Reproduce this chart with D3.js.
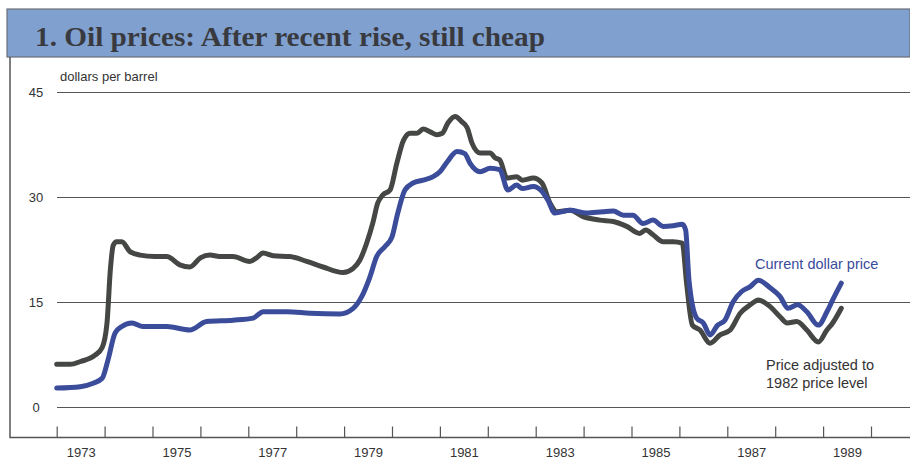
<!DOCTYPE html>
<html>
<head>
<meta charset="utf-8">
<script src="https://cdn.jsdelivr.net/npm/d3@7"></script>
<style>
  html, body { margin: 0; padding: 0; background: #fff; }
  svg { display: block; }
</style>
</head>
<body>
<svg id="chart" width="910" height="461"></svg>
<script>
// ---- Data ----
const title = "1. Oil prices: After recent rise, still cheap";
const yUnitLabel = "dollars per barrel";
const yTicks = [0, 15, 30, 45];
const yearTicks = d3.range(1973, 1991);
const yearLabels = [1973, 1975, 1977, 1979, 1981, 1983, 1985, 1987, 1989];

// Price adjusted to 1982 price level (decimal year, $/barrel)
const realDates = [1973.0, 1973.28, 1973.5, 1973.8, 1973.95, 1974.05, 1974.12, 1974.18, 1974.25, 1974.36,
  1974.53, 1974.74, 1975.05, 1975.3, 1975.57, 1975.78, 1976.0, 1976.2, 1976.4, 1976.68,
  1977.03, 1977.17, 1977.31, 1977.52, 1977.87, 1978.22, 1978.56, 1978.98, 1979.19, 1979.33,
  1979.47, 1979.6, 1979.7, 1979.81, 1979.96, 1980.1, 1980.24, 1980.38, 1980.52, 1980.65,
  1980.8, 1980.94, 1981.05, 1981.17, 1981.32, 1981.45, 1981.57, 1981.67, 1981.84, 1982.05,
  1982.15, 1982.25, 1982.4, 1982.6, 1982.72, 1982.95, 1983.13, 1983.3, 1983.44, 1983.72,
  1983.99, 1984.34, 1984.62, 1984.9, 1985.17, 1985.3, 1985.45, 1985.66, 1985.87, 1986.06,
  1986.15, 1986.27, 1986.43, 1986.64, 1986.85, 1987.06, 1987.27, 1987.48, 1987.65, 1987.9,
  1988.1, 1988.25, 1988.45, 1988.66, 1988.9, 1989.08, 1989.2, 1989.38];
const realValues = [6.1, 6.1, 6.5, 7.4, 8.5, 12.0, 19.6, 23.1, 23.6, 23.6,
  22.2, 21.7, 21.5, 21.5, 20.3, 20.0, 21.3, 21.7, 21.5, 21.5,
  20.8, 21.3, 22.0, 21.6, 21.5, 20.8, 20.0, 19.2, 19.8, 21.0,
  23.4, 26.3, 29.1, 30.3, 31.0, 34.8, 38.1, 39.1, 39.1, 39.7,
  39.3, 38.9, 39.1, 40.6, 41.5, 40.8, 39.9, 37.7, 36.3, 36.3,
  35.6, 35.3, 32.7, 32.9, 32.4, 32.7, 32.0, 29.1, 27.9, 28.1,
  27.2, 26.7, 26.5, 25.8, 24.8, 25.3, 24.6, 23.6, 23.6, 23.4,
  17.7, 11.7, 11.0, 9.1, 10.3, 11.0, 13.4, 14.6, 15.3, 14.3,
  12.9, 12.0, 12.2, 11.0, 9.3, 11.0, 12.0, 14.1];

// Current dollar price (decimal year, $/barrel)
const nominalDates = [1973.0, 1973.49, 1973.76, 1973.95, 1974.07, 1974.22, 1974.36, 1974.57, 1974.8, 1975.3,
  1975.78, 1976.13, 1976.68, 1977.1, 1977.31, 1977.81, 1978.29, 1978.91, 1979.19, 1979.37,
  1979.54, 1979.68, 1979.85, 1980.0, 1980.12, 1980.27, 1980.44, 1980.65, 1980.86, 1981.0,
  1981.15, 1981.36, 1981.52, 1981.63, 1981.84, 1982.05, 1982.25, 1982.42, 1982.6, 1982.72,
  1982.95, 1983.13, 1983.25, 1983.4, 1983.72, 1984.06, 1984.4, 1984.62, 1984.83, 1985.03,
  1985.24, 1985.45, 1985.66, 1985.87, 1986.06, 1986.13, 1986.2, 1986.36, 1986.5, 1986.64,
  1986.8, 1986.95, 1987.12, 1987.3, 1987.48, 1987.65, 1987.9, 1988.1, 1988.27, 1988.47,
  1988.66, 1988.9, 1989.08, 1989.2, 1989.38];
const nominalValues = [2.7, 2.9, 3.4, 4.1, 6.7, 10.6, 11.5, 12.0, 11.5, 11.5,
  11.0, 12.2, 12.4, 12.7, 13.6, 13.6, 13.4, 13.3, 14.1, 15.8,
  18.6, 21.5, 22.9, 24.3, 27.7, 31.0, 32.0, 32.4, 32.9, 33.6,
  35.0, 36.5, 36.2, 34.8, 33.6, 34.1, 33.9, 31.0, 31.7, 31.2,
  31.5, 30.8, 29.6, 27.7, 28.1, 27.7, 27.9, 28.0, 27.4, 27.4,
  26.2, 26.7, 25.8, 25.9, 26.1, 25.3, 18.1, 12.7, 12.0, 10.3,
  11.7, 12.4, 15.0, 16.5, 17.2, 18.1, 17.0, 15.8, 14.1, 14.6,
  13.6, 11.7, 13.6, 15.3, 17.7];

const labelNominal = "Current dollar price";
const labelReal = ["Price adjusted to", "1982 price level"];

// ---- Drawing ----
const svg = d3.select("#chart");
const W = 910, H = 461;

const x = d3.scaleLinear().domain([1973, 1990]).range([56.7, 871]);
const y = d3.scaleLinear().domain([0, 45]).range([407, 92]);

// Title band
svg.append("rect").attr("x", 7).attr("y", 9).attr("width", W - 7).attr("height", 48)
  .attr("fill", "#80a0cf").attr("stroke", "#6b6f78").attr("stroke-width", 1.2);
svg.append("text").attr("x", 35).attr("y", 46)
  .attr("font-family", "Liberation Serif, 'DejaVu Serif', serif")
  .attr("font-weight", "bold").attr("font-size", 28)
  .attr("textLength", 510).attr("lengthAdjust", "spacingAndGlyphs")
  .attr("fill", "#383a40").text(title);

// Frame (left & bottom)
svg.append("path").attr("d", `M10,57 V437.5 H${W}`)
  .attr("fill", "none").attr("stroke", "#555").attr("stroke-width", 1.5);

// Y gridlines via axis
const yAxis = d3.axisLeft(y).tickValues(yTicks).tickSize(-(W - 57)).tickFormat("");
const gy = svg.append("g").attr("transform", "translate(57,0)").call(yAxis);
gy.select(".domain").remove();
gy.selectAll(".tick line").attr("stroke", "#555").attr("stroke-width", 1);

// Y labels
svg.append("g").selectAll("text").data(yTicks).join("text")
  .attr("x", 36).attr("y", d => y(d) + 5)
  .attr("text-anchor", "middle")
  .attr("font-family", "Liberation Sans, Arial, sans-serif").attr("font-size", 13)
  .attr("fill", "#333").text(d => d);

svg.append("text").attr("x", 60).attr("y", 81)
  .attr("font-family", "Liberation Sans, Arial, sans-serif").attr("font-size", 13)
  .attr("fill", "#333").text(yUnitLabel);

// X ticks (year boundaries), drawn upward from the bottom frame
const xTickAxis = d3.axisBottom(x).tickValues(yearTicks).tickSize(-11).tickFormat("");
const gx = svg.append("g").attr("transform", "translate(0,437.5)").call(xTickAxis);
gx.select(".domain").remove();
gx.selectAll(".tick line").attr("stroke", "#555").attr("stroke-width", 1.2);

// X labels centred in odd years
const xLabelAxis = d3.axisBottom(x).tickValues(yearLabels.map(d => d + 0.5))
  .tickSize(0).tickPadding(0).tickFormat(d => Math.floor(d));
const gxl = svg.append("g").attr("transform", "translate(0,448)").call(xLabelAxis);
gxl.select(".domain").remove();
gxl.selectAll("text").attr("font-family", "Liberation Sans, Arial, sans-serif")
  .attr("font-size", 13).attr("fill", "#333").attr("dy", "0.71em");

// Lines
const realData = realDates.map((d, i) => [d, realValues[i]]);
const nominalData = nominalDates.map((d, i) => [d, nominalValues[i]]);
const line = d3.line().x(d => x(d[0])).y(d => y(d[1])).curve(d3.curveMonotoneX);

svg.append("path").datum(realData).attr("d", line)
  .attr("fill", "none").attr("stroke", "#454745").attr("stroke-width", 5)
  .attr("stroke-linejoin", "round").attr("stroke-linecap", "round");
svg.append("path").datum(nominalData).attr("d", line)
  .attr("fill", "none").attr("stroke", "#3a4c9a").attr("stroke-width", 5)
  .attr("stroke-linejoin", "round").attr("stroke-linecap", "round");

// Series labels
svg.append("text").attr("x", 755).attr("y", 269)
  .attr("font-family", "Liberation Sans, Arial, sans-serif").attr("font-size", 14.5)
  .attr("fill", "#3a4c9a").text(labelNominal);
svg.append("g").selectAll("text").data(labelReal).join("text")
  .attr("x", 766).attr("y", (d, i) => 370 + i * 18)
  .attr("font-family", "Liberation Sans, Arial, sans-serif").attr("font-size", 14.5)
  .attr("fill", "#333").text(d => d);
</script>
</body>
</html>
